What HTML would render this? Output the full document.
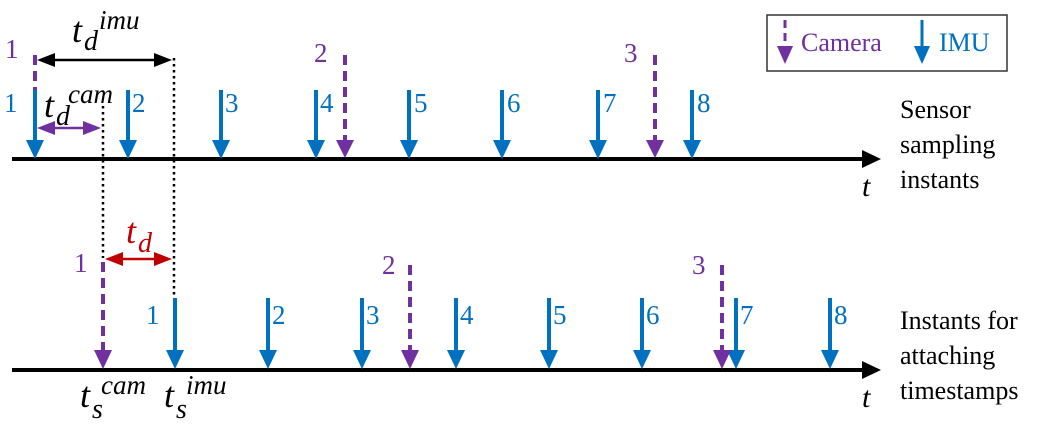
<!DOCTYPE html>
<html><head><style>body{margin:0;background:#fff}svg{display:block}</style></head><body>
<svg width="1040" height="426" viewBox="0 0 1040 426" xmlns="http://www.w3.org/2000/svg" font-family="Liberation Serif, serif">
<line x1="12" y1="159" x2="866" y2="159" stroke="#000" stroke-width="4"/>
<polygon points="862,150 881,159 862,168" fill="#000"/>
<line x1="12" y1="370" x2="866" y2="370" stroke="#000" stroke-width="4"/>
<polygon points="862,361 881,370 862,379" fill="#000"/>
<line x1="174" y1="58" x2="174" y2="298" stroke="#000" stroke-width="2.5" stroke-dasharray="2.5,3.5"/>
<line x1="103" y1="106" x2="103" y2="258" stroke="#000" stroke-width="2.5" stroke-dasharray="2.5,3.5"/>
<g stroke="#0070c0" stroke-width="4">
<line x1="35" y1="90" x2="35" y2="144"/><line x1="128" y1="90" x2="128" y2="144"/><line x1="221" y1="90" x2="221" y2="144"/><line x1="316" y1="90" x2="316" y2="144"/>
<line x1="409" y1="90" x2="409" y2="144"/><line x1="502" y1="90" x2="502" y2="144"/><line x1="598" y1="90" x2="598" y2="144"/><line x1="692" y1="90" x2="692" y2="144"/>
<line x1="175" y1="298" x2="175" y2="354"/><line x1="268" y1="298" x2="268" y2="354"/><line x1="362" y1="298" x2="362" y2="354"/><line x1="456" y1="298" x2="456" y2="354"/>
<line x1="549" y1="298" x2="549" y2="354"/><line x1="642" y1="298" x2="642" y2="354"/><line x1="736" y1="298" x2="736" y2="354"/><line x1="830" y1="298" x2="830" y2="354"/>
</g>
<g fill="#0070c0">
<polygon points="26,140 44,140 35,159"/><polygon points="119,140 137,140 128,159"/><polygon points="212,140 230,140 221,159"/><polygon points="307,140 325,140 316,159"/>
<polygon points="400,140 418,140 409,159"/><polygon points="493,140 511,140 502,159"/><polygon points="589,140 607,140 598,159"/><polygon points="683,140 701,140 692,159"/>
<polygon points="166,350 184,350 175,369"/><polygon points="259,350 277,350 268,369"/><polygon points="353,350 371,350 362,369"/><polygon points="447,350 465,350 456,369"/>
<polygon points="540,350 558,350 549,369"/><polygon points="633,350 651,350 642,369"/><polygon points="727,350 745,350 736,369"/><polygon points="821,350 839,350 830,369"/>
</g>
<g stroke="#7030a0" stroke-width="4" fill="#7030a0">
<line x1="35" y1="55" x2="35" y2="90" stroke-dasharray="10,6"/>
<line x1="345" y1="55" x2="345" y2="142" stroke-dasharray="10,6"/>
<polygon points="336,140 354,140 345,158" stroke="none"/>
<line x1="655" y1="55" x2="655" y2="142" stroke-dasharray="10,6"/>
<polygon points="646,140 664,140 655,158" stroke="none"/>
<line x1="103" y1="262" x2="103" y2="352" stroke-dasharray="10,6"/>
<polygon points="94,350 112,350 103,369" stroke="none"/>
<line x1="410" y1="265" x2="410" y2="352" stroke-dasharray="10,6"/>
<polygon points="401,350 419,350 410,369" stroke="none"/>
<line x1="722" y1="265" x2="722" y2="352" stroke-dasharray="10,6"/>
<polygon points="713,350 731,350 722,369" stroke="none"/>
</g>
<line x1="50" y1="60" x2="160" y2="60" stroke="#000" stroke-width="2.5"/>
<polygon points="37,60 55,53 55,67" fill="#000"/><polygon points="172,60 154,53 154,67" fill="#000"/>
<line x1="50" y1="128" x2="88" y2="128" stroke="#7030a0" stroke-width="2.5"/>
<polygon points="37,128 55,121 55,135" fill="#7030a0"/><polygon points="101,128 83,121 83,135" fill="#7030a0"/>
<line x1="118" y1="259" x2="160" y2="259" stroke="#c00000" stroke-width="2.5"/>
<polygon points="105,259 123,252 123,266" fill="#c00000"/><polygon points="172,259 154,252 154,266" fill="#c00000"/>
<g font-size="27" fill="#7030a0">
<text x="5" y="58">1</text><text x="314" y="62">2</text><text x="624" y="62">3</text>
<text x="74" y="272">1</text><text x="382" y="274">2</text><text x="692" y="274">3</text>
</g>
<g font-size="27" fill="#0070c0">
<text x="4" y="112">1</text><text x="132" y="112">2</text><text x="225" y="112">3</text><text x="320" y="112">4</text>
<text x="414" y="112">5</text><text x="507" y="112">6</text><text x="603" y="112">7</text><text x="697" y="112">8</text>
<text x="146" y="324">1</text><text x="272" y="324">2</text><text x="366" y="324">3</text><text x="460" y="324">4</text>
<text x="553" y="324">5</text><text x="646" y="324">6</text><text x="740" y="324">7</text><text x="834" y="324">8</text>
</g>
<g font-style="italic" fill="#000" font-size="36">
<text x="72" y="42">t</text><text x="84" y="50" font-size="28">d</text><text x="99" y="29" font-size="27">imu</text>
<text x="44" y="117">t</text><text x="56" y="125" font-size="28">d</text><text x="68" y="103" font-size="27">cam</text>
<text x="126" y="243" fill="#c00000">t</text><text x="138" y="252" font-size="28" fill="#c00000">d</text>
<text x="80" y="407">t</text><text x="92" y="418" font-size="28">s</text><text x="101" y="394" font-size="27">cam</text>
<text x="164" y="407">t</text><text x="176" y="418" font-size="28">s</text><text x="186" y="394" font-size="27">imu</text>
<text x="862" y="196" font-size="30">t</text>
<text x="862" y="407" font-size="30">t</text>
</g>
<g font-size="26" fill="#000">
<text x="900" y="118">Sensor</text><text x="900" y="153">sampling</text><text x="900" y="188">instants</text>
<text x="900" y="329">Instants for</text><text x="900" y="364">attaching</text><text x="900" y="399">timestamps</text>
</g>
<rect x="767" y="15" width="240" height="56" fill="none" stroke="#333" stroke-width="1.5"/>
<line x1="785" y1="20" x2="785" y2="48" stroke="#7030a0" stroke-width="3" stroke-dasharray="8,5"/>
<polygon points="777,46 793,46 785,64" fill="#7030a0"/>
<text x="801" y="51" font-size="26" fill="#7030a0">Camera</text>
<line x1="922" y1="20" x2="922" y2="48" stroke="#0070c0" stroke-width="3"/>
<polygon points="914,46 930,46 922,64" fill="#0070c0"/>
<text x="939" y="51" font-size="26" fill="#0070c0">IMU</text>
</svg>
</body></html>
